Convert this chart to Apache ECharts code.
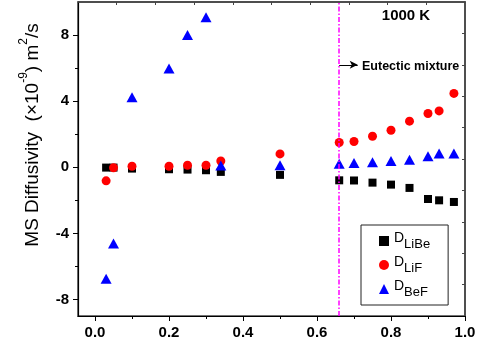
<!DOCTYPE html>
<html>
<head>
<meta charset="utf-8">
<script src="https://cdn.jsdelivr.net/npm/echarts@6/dist/echarts.min.js"></script>
<style>
  html, body { margin: 0; padding: 0; background: #fff; }
  #chart { width: 481px; height: 347px; }
</style>
</head>
<body>
<div id="chart"></div>
<script>
// mole fraction (x) shared by all three series
const xFraction = [0.03, 0.05, 0.10, 0.20, 0.25, 0.30, 0.34, 0.50, 0.66, 0.70, 0.75, 0.80, 0.85, 0.90, 0.93, 0.97];
const dLiBe = [-0.02, -0.02, -0.08, -0.12, -0.14, -0.18, -0.28, -0.46, -0.79, -0.80, -0.93, -1.05, -1.25, -1.92, -2.0, -2.1];
const dLiF  = [-0.82, -0.03, 0.06, 0.06, 0.12, 0.12, 0.38, 0.81, 1.50, 1.56, 1.88, 2.24, 2.79, 3.25, 3.41, 4.47];
const dBeF  = [-6.75, -4.62, 4.24, 5.98, 8.0, 9.07, 0.10, 0.12, 0.22, 0.26, 0.30, 0.38, 0.46, 0.67, 0.83, 0.83];

const seriesNames = ['LiBe', 'LiF', 'BeF'];
const xMin = -0.046, xMax = 1.0;
const yMin = -9, yMax = 10;
const xMajorTicks = [0, 0.2, 0.4, 0.6, 0.8, 1.0];
const xMinorTicks = [0.1, 0.3, 0.5, 0.7, 0.9];
const yMajorTicks = [-8, -4, 0, 4, 8];
const yMinorTicks = [-6, -2, 2, 6];
const eutecticX = 0.66;

// the top and right frame edges carry 10 evenly spaced inner ticks
const frameSteps = [1, 2, 3, 4, 5, 6, 7, 8, 9];
const topTicks = frameSteps.map(k => xMin + k * (xMax - xMin) / 10);
const rightTicks = frameSteps.map(k => yMin + k * (yMax - yMin) / 10);

const chart = echarts.init(document.getElementById('chart'));
const font = 'Liberation Sans, Arial, sans-serif';
const black = '#000';
const frame = '#444';
const magenta = '#ff00ff';

const pairs = ys => xFraction.map((x, i) => [x, ys[i]]);

const option = {
  animation: false,
  grid: {
    left: 78, top: 2, right: 16, bottom: 31, containLabel: false,
    show: true, borderColor: frame, borderWidth: 1.5, backgroundColor: 'rgba(0,0,0,0)'
  },
  xAxis: [
    {
      type: 'value', position: 'bottom', min: xMin, max: xMax,
      axisLine: { show: true, onZero: false, lineStyle: { color: black, width: 1.2 } },
      axisTick: { show: true, customValues: xMajorTicks, length: 5, lineStyle: { color: black } },
      axisLabel: {
        customValues: xMajorTicks, color: black, fontFamily: font, fontWeight: 'bold', fontSize: 15, margin: 9,
        formatter: v => v.toFixed(1)
      },
      splitLine: { show: false }
    },
    {
      type: 'value', position: 'bottom', min: xMin, max: xMax,
      axisLine: { show: false, onZero: false },
      axisTick: { show: true, customValues: xMinorTicks, length: 3, lineStyle: { color: black } },
      axisLabel: { show: false }, splitLine: { show: false }
    },
    {
      type: 'value', position: 'top', min: xMin, max: xMax,
      axisLine: { show: true, onZero: false, lineStyle: { color: frame, width: 1.5 } },
      axisTick: { show: true, inside: true, customValues: topTicks, length: 3, lineStyle: { color: frame } },
      axisLabel: { show: false }, splitLine: { show: false }
    }
  ],
  yAxis: [
    {
      type: 'value', position: 'left', min: yMin, max: yMax,
      axisLine: { show: true, onZero: false, lineStyle: { color: black, width: 1.2 } },
      axisTick: { show: true, customValues: yMajorTicks, length: 5, lineStyle: { color: black } },
      axisLabel: { customValues: yMajorTicks, color: black, fontFamily: font, fontWeight: 'bold', fontSize: 15, margin: 9 },
      splitLine: { show: false }
    },
    {
      type: 'value', position: 'left', min: yMin, max: yMax,
      axisLine: { show: false, onZero: false },
      axisTick: { show: true, customValues: yMinorTicks, length: 3, lineStyle: { color: black } },
      axisLabel: { show: false }, splitLine: { show: false }
    },
    {
      type: 'value', position: 'right', min: yMin, max: yMax,
      axisLine: { show: true, onZero: false, lineStyle: { color: frame, width: 1.5 } },
      axisTick: { show: true, inside: true, customValues: rightTicks, length: 3, lineStyle: { color: frame } },
      axisLabel: { show: false }, splitLine: { show: false }
    }
  ],
  legend: {
    orient: 'vertical', left: 361, top: 225, width: 86,
    padding: [6, 18, 6, 18], itemGap: 4,
    borderColor: '#222', borderWidth: 1,
    itemWidth: 10, itemHeight: 10,
    data: seriesNames,
    formatter: name => '{d|D}{s|' + name + '}',
    textStyle: {
      color: black, fontFamily: font,
      rich: {
        d: { fontSize: 14, lineHeight: 20, verticalAlign: 'top', fontFamily: font, color: black },
        s: { fontSize: 13, lineHeight: 14, verticalAlign: 'bottom', padding: [6, 0, 0, 0], fontFamily: font, color: black }
      }
    }
  },
  series: [
    {
      name: 'LiBe', type: 'scatter', symbol: 'rect', symbolSize: 8,
      itemStyle: { color: '#000', opacity: 1 },
      data: pairs(dLiBe),
      markLine: {
        silent: true, animation: false,
        label: { show: false },
        symbol: 'none',
        lineStyle: { color: magenta, width: 1.5, type: [5, 2, 1.5, 2], opacity: 1 },
        data: [
          { xAxis: eutecticX, lineStyle: { color: magenta, width: 1.5, type: [5, 2, 1.5, 2] } },
          [
            { coord: [eutecticX, 6.2], symbol: 'none', lineStyle: { color: black, width: 1, type: 'solid' } },
            { coord: [0.71, 6.2], symbol: 'arrow', symbolSize: [6, 8], lineStyle: { color: black, width: 1, type: 'solid' } }
          ]
        ]
      }
    },
    {
      name: 'LiF', type: 'scatter', symbol: 'circle', symbolSize: 9,
      itemStyle: { color: '#ff0000', opacity: 1 },
      data: pairs(dLiF)
    },
    {
      name: 'BeF', type: 'scatter', symbol: 'triangle', symbolSize: [11, 10],
      itemStyle: { color: '#0000ff', opacity: 1 },
      data: pairs(dBeF)
    },
    // helper series so the tick-only axes are bound to a series
    { type: 'scatter', xAxisIndex: 1, yAxisIndex: 1, data: [], silent: true },
    { type: 'scatter', xAxisIndex: 2, yAxisIndex: 2, data: [], silent: true }
  ],
  graphic: [
    {
      type: 'text', x: 30, y: 135, rotation: Math.PI / 2,
      style: {
        text: '{n|MS Diffusivity  (×10}{p|-9}{n|) m}{p|2}{n|/s}',
        align: 'center', verticalAlign: 'middle',
        rich: {
          n: { fontSize: 19, fontFamily: font, fill: black, lineHeight: 24, verticalAlign: 'bottom' },
          p: { fontSize: 12, fontFamily: font, fill: black, lineHeight: 13, verticalAlign: 'top' }
        }
      }
    },
    {
      type: 'text', x: 406, y: 16,
      style: { text: '1000 K', fontSize: 15, fontWeight: 'bold', fontFamily: font, fill: black, align: 'center', verticalAlign: 'middle' }
    },
    {
      type: 'text', x: 362, y: 67,
      style: { text: 'Eutectic mixture', fontSize: 12.5, fontWeight: 'bold', fontFamily: font, fill: black, align: 'left', verticalAlign: 'middle' }
    }
  ]
};

chart.setOption(option);
</script>
</body>
</html>
